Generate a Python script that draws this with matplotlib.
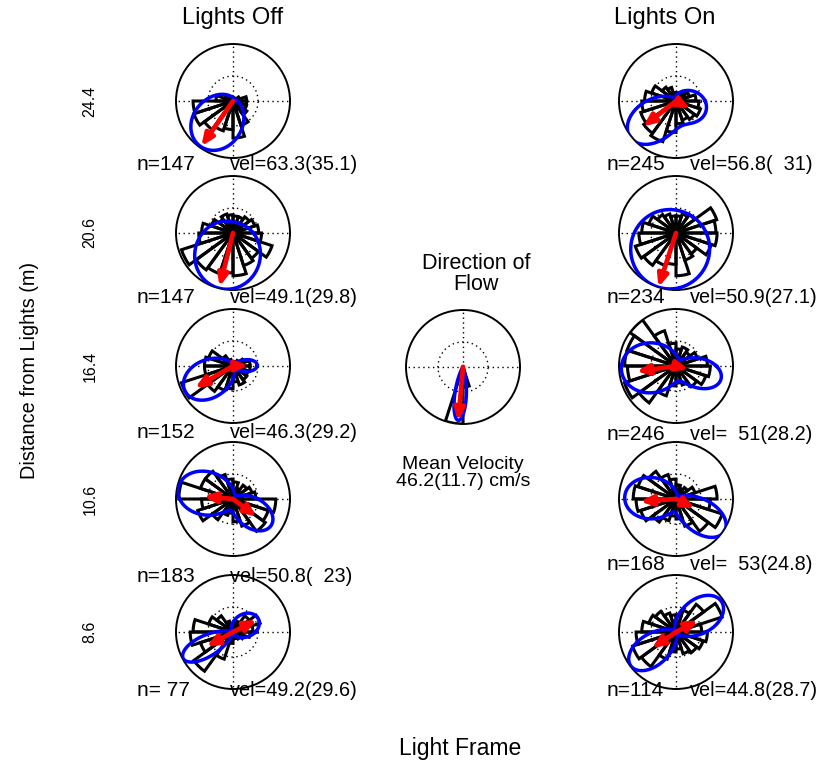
import numpy as np
import matplotlib.pyplot as plt

plt.rcParams['font.family'] = ['Liberation Sans', 'DejaVu Sans']

W, H = 825, 761

# rose bin centres (deg), 20 bins like MATLAB rose()
bin_centers = np.arange(9, 360, 18)

# rose counts, scaled so the outer ring = 1
rose_off = [
    [0.24, 0.12, 0.06, 0.05, 0.05, 0.06, 0.08, 0.1, 0.15, 0.3, 0.7, 0.72, 0.62, 0.55, 0.5, 0.65, 0.45, 0.3, 0.25, 0.24],
    [0.45, 0.4, 0.35, 0.3, 0.3, 0.32, 0.35, 0.3, 0.4, 0.55, 0.6, 0.95, 0.8, 0.75, 0.7, 0.75, 0.6, 0.55, 0.72, 0.5],
    [0.3, 0.2, 0.12, 0.08, 0.06, 0.08, 0.12, 0.22, 0.45, 0.5, 0.5, 0.95, 0.55, 0.45, 0.4, 0.28, 0.35, 0.3, 0.28, 0.3],
    [0.4, 0.35, 0.3, 0.2, 0.3, 0.35, 0.45, 0.6, 0.6, 0.95, 0.55, 0.65, 0.45, 0.3, 0.25, 0.4, 0.5, 0.7, 0.65, 0.75],
    [0.35, 0.5, 0.35, 0.2, 0.15, 0.15, 0.2, 0.35, 0.45, 0.7, 0.75, 0.6, 0.85, 0.5, 0.2, 0.12, 0.12, 0.15, 0.2, 0.3],
]
rose_on = [
    [0.35, 0.25, 0.2, 0.15, 0.12, 0.15, 0.25, 0.3, 0.45, 0.55, 0.6, 0.65, 0.7, 0.75, 0.55, 0.4, 0.35, 0.4, 0.45, 0.4],
    [0.7, 0.75, 0.4, 0.35, 0.3, 0.3, 0.35, 0.4, 0.5, 0.6, 0.65, 0.75, 0.7, 0.6, 0.55, 0.75, 0.5, 0.45, 0.65, 0.72],
    [0.55, 0.4, 0.3, 0.35, 0.3, 0.4, 0.65, 1.0, 0.9, 0.9, 0.85, 0.95, 0.8, 0.55, 0.35, 0.3, 0.35, 0.45, 0.55, 0.6],
    [0.72, 0.35, 0.25, 0.2, 0.25, 0.35, 0.45, 0.6, 0.7, 0.75, 0.7, 0.65, 0.5, 0.4, 0.3, 0.35, 0.5, 0.7, 0.85, 0.6],
    [0.45, 0.85, 0.6, 0.4, 0.3, 0.3, 0.35, 0.45, 0.5, 0.6, 0.7, 0.8, 0.75, 0.5, 0.35, 0.3, 0.4, 0.45, 0.5, 0.55],
]
rose_flow = [0, 0, 0, 0, 0, 0, 0, 0, 0, 0, 0, 0, 0, 0, 1.0, 0.35, 0, 0, 0, 0]

# fitted curve lobes: (direction deg, peak radius, concentration)
fit_off = [
    [(234, 0.98, 1.6)],
    [(256, 1.0, 0.83)],
    [(208, 0.95, 2.7), (2, 0.42, 6)],
    [(168, 0.98, 2.2), (325, 0.8, 3.5)],
    [(208, 0.98, 10), (28, 0.5, 2)],
]
fit_on = [
    [(218, 0.95, 3.3), (340, 0.55, 1.3)],
    [(250, 1.0, 0.47)],
    [(184, 0.96, 1.5), (344, 0.77, 4)],
    [(178, 0.9, 2.0), (326, 1.0, 4.5)],
    [(34, 0.96, 3.5), (217, 0.99, 4.5)],
]
fit_flow = [(265, 0.94, 30)]

# mean vectors: (direction deg, length)
vec_off = [
    [(235, 0.97)],
    [(256, 0.97)],
    [(210, 0.77), (2, 0.27)],
    [(175, 0.52), (323, 0.52)],
    [(209, 0.53), (27, 0.47)],
]
vec_on = [
    [(218, 0.73), (331, 0.28)],
    [(252, 1.0)],
    [(188, 0.7), (345, 0.23)],
    [(184, 0.63), (334, 0.37)],
    [(214, 0.51), (28, 0.44)],
]
vec_flow = [(265, 0.95)]

distances = ['24.4', '20.6', '16.4', '10.6', '8.6']
n_off = ['n=147', 'n=147', 'n=152', 'n=183', 'n= 77']
vel_off = ['vel=63.3(35.1)', 'vel=49.1(29.8)', 'vel=46.3(29.2)', 'vel=50.8(  23)', 'vel=49.2(29.6)']
n_on = ['n=245', 'n=234', 'n=246', 'n=168', 'n=114']
vel_on = ['vel=56.8(  31)', 'vel=50.9(27.1)', 'vel=  51(28.2)', 'vel=  53(24.8)', 'vel=44.8(28.7)']

row_y = [101, 233, 366, 499, 632]
lab_y_off = [165, 297, 433, 576, 690]
lab_y_on = [165, 297, 435, 565, 690]
R = 57


def fx(x):
    return x / W


def fy(y):
    return 1 - y / H


def polar_panel(fig, cx, cy, rose, lobes, vecs):
    ax = fig.add_axes([fx(cx - R), fy(cy + R), 2 * R / W, 2 * R / H], projection='polar')
    ax.set_theta_zero_location('E')
    ax.set_ylim(0, 1)
    ax.set_rticks([0.44])
    ax.set_thetagrids([0, 90, 180, 270])
    ax.set_xticklabels([])
    ax.set_yticklabels([])
    ax.tick_params(length=0)
    ax.grid(True, color='black', linestyle=(0, (1, 2.5)), linewidth=1)
    ax.spines['polar'].set_linewidth(1.4)

    ax.bar(np.deg2rad(bin_centers), rose, width=np.deg2rad(18), bottom=0,
           fill=False, edgecolor='black', linewidth=2.2, zorder=2)

    th = np.linspace(0, 2 * np.pi, 721)
    r = np.zeros_like(th)
    for mu, a, k in lobes:
        r += a * np.exp(k * (np.cos(th - np.deg2rad(mu)) - 1))
    ax.plot(th, r, color='#0000ff', linewidth=2.5, zorder=3)

    for ang, ln in vecs:
        ax.annotate('', xy=(np.deg2rad(ang), ln), xytext=(0, 0),
                    arrowprops=dict(arrowstyle='-|>,head_length=0.7,head_width=0.3',
                                    color='red', lw=3.4, shrinkA=0, shrinkB=0,
                                    mutation_scale=10), zorder=4)
    return ax


fig = plt.figure(figsize=(W / 100, H / 100), dpi=100)

for i in range(5):
    polar_panel(fig, 233, row_y[i], rose_off[i], fit_off[i], vec_off[i])
    polar_panel(fig, 676, row_y[i], rose_on[i], fit_on[i], vec_on[i])
    fig.text(fx(137), fy(lab_y_off[i]), n_off[i], fontsize=15, ha='left', va='center')
    fig.text(fx(230), fy(lab_y_off[i]), vel_off[i], fontsize=14.3, ha='left', va='center')
    fig.text(fx(607), fy(lab_y_on[i]), n_on[i], fontsize=15, ha='left', va='center')
    fig.text(fx(690), fy(lab_y_on[i]), vel_on[i], fontsize=14.3, ha='left', va='center')
    fig.text(fx(90), fy(row_y[i]), distances[i], fontsize=11.5, rotation=90, ha='center', va='center')

polar_panel(fig, 463, 367, rose_flow, fit_flow, vec_flow)

fig.text(fx(233), fy(18), 'Lights Off', fontsize=17, ha='center', va='center')
fig.text(fx(665), fy(18), 'Lights On', fontsize=17, ha='center', va='center')
fig.text(fx(476), fy(274), 'Direction of\nFlow', fontsize=15.5, ha='center', va='center', linespacing=1.05)
fig.text(fx(463), fy(473), 'Mean Velocity\n46.2(11.7) cm/s', fontsize=14, ha='center', va='center', linespacing=1.05)
fig.text(fx(30), fy(370), 'Distance from Lights (m)', fontsize=14.3, rotation=90, ha='center', va='center')
fig.text(fx(460), fy(748), 'Light Frame', fontsize=16.5, ha='center', va='center')

fig.savefig('out.png', dpi=100)
